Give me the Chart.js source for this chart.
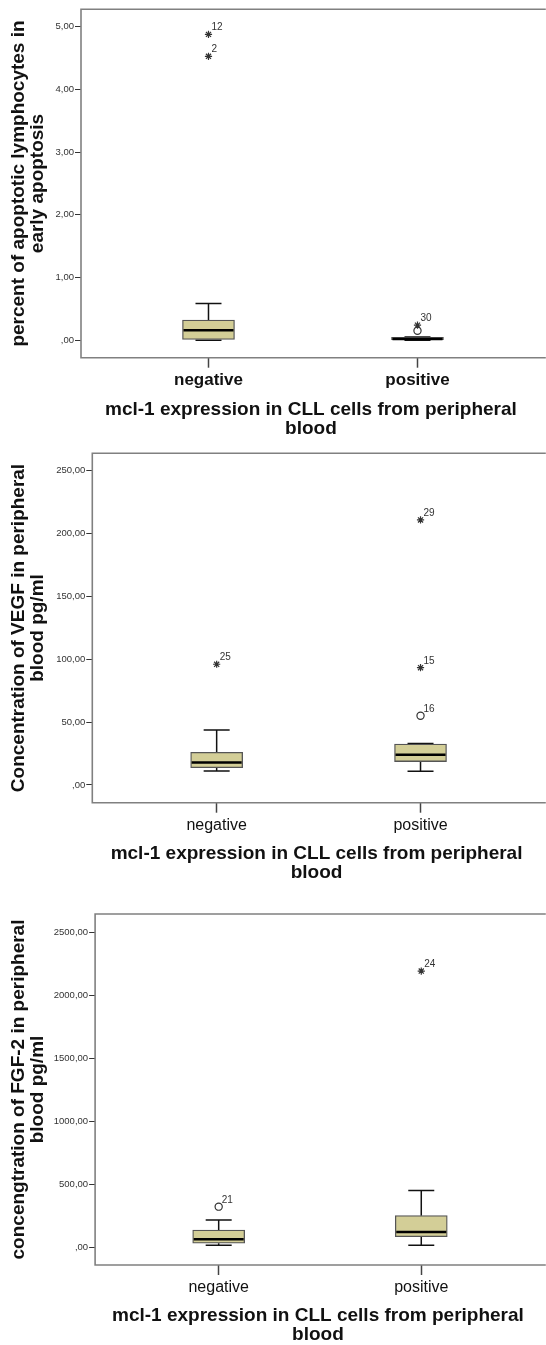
<!DOCTYPE html>
<html>
<head>
<meta charset="utf-8">
<title>mcl-1 expression box plots</title>
<script src="https://cdn.jsdelivr.net/npm/chart.js@4.4.1/dist/chart.umd.min.js"></script>
<style>
  body { margin: 0; background: #fff; }
  #wrap { position: relative; width: 546px; height: 1345px; overflow: hidden; }
  #wrap canvas { position: absolute; left: 0; }
</style>
</head>
<body>
<div id="wrap">
  <canvas id="chartEarly" width="546" height="440" style="top:0"></canvas>
  <canvas id="chartVegf" width="546" height="450" style="top:440px"></canvas>
  <canvas id="chartFgf" width="546" height="455" style="top:890px"></canvas>
</div>
<script>
// kategori sumbu x
const categories = ['negative', 'positive'];
const xTicks = [0, 1];

// panel 1: persen limfosit apoptosis awal
const earlyMin = [0.00, 0.00];
const earlyQ1 = [0.01, 0.00];
const earlyMedian = [0.16, 0.02];
const earlyQ3 = [0.32, 0.045];
const earlyMax = [0.585, 0.05];
const earlyOutGroup = [0, 0, 1, 1];
const earlyOutValue = [4.88, 4.53, 0.24, 0.15];
const earlyOutType = ['star', 'star', 'star', 'circle'];
const earlyOutLabel = ['12', '2', '30', ''];
const earlyTicks = [0, 1, 2, 3, 4, 5];

// panel 2: VEGF pg/ml
const vegfMin = [11.1, 10.9];
const vegfQ1 = [13.8, 18.6];
const vegfMedian = [17.8, 24.1];
const vegfQ3 = [26.0, 32.6];
const vegfMax = [43.7, 33.0];
const vegfOutGroup = [0, 1, 1, 1];
const vegfOutValue = [96.0, 210.8, 93.3, 55.1];
const vegfOutType = ['star', 'star', 'star', 'circle'];
const vegfOutLabel = ['25', '29', '15', '16'];
const vegfTicks = [0, 50, 100, 150, 200, 250];

// panel 3: FGF-2 pg/ml
const fgfMin = [19, 19];
const fgfQ1 = [35, 87];
const fgfMedian = [66, 124];
const fgfQ3 = [140, 254];
const fgfMax = [219, 454];
const fgfOutGroup = [0, 1];
const fgfOutValue = [325, 2191];
const fgfOutType = ['circle', 'star'];
const fgfOutLabel = ['21', '24'];
const fgfTicks = [0, 500, 1000, 1500, 2000, 2500];

const FONT = "'Liberation Sans', Arial, sans-serif";
const BOX_W = 52;
const CAP_W = 26;
const fmtComma = v => v === 0 ? ',00' : v.toFixed(2).replace('.', ',');

function boxChart(id, s, L) {
    // whisker, median, bingkai dan label outlier digambar lewat skala Chart.js
    const extras = {
        id: 'boxExtras',
        beforeDatasetsDraw(chart) {
            const { ctx, chartArea: a, scales: { x, y } } = chart;
            ctx.save();
            ctx.strokeStyle = '#808080';
            ctx.lineWidth = 1.6;
            ctx.beginPath();
            ctx.moveTo(a.right + 5, a.top);
            ctx.lineTo(a.left, a.top);
            ctx.lineTo(a.left, a.bottom);
            ctx.lineTo(a.right + 5, a.bottom);
            ctx.stroke();

            ctx.strokeStyle = '#111';
            ctx.lineWidth = 1.5;
            s.min.forEach((_, i) => {
                const cx = x.getPixelForValue(i);
                const yMax = y.getPixelForValue(s.max[i]);
                const yMin = y.getPixelForValue(s.min[i]);
                ctx.beginPath();
                ctx.moveTo(cx, y.getPixelForValue(s.q3[i])); ctx.lineTo(cx, yMax);
                ctx.moveTo(cx, y.getPixelForValue(s.q1[i])); ctx.lineTo(cx, yMin);
                ctx.moveTo(cx - CAP_W / 2, yMax); ctx.lineTo(cx + CAP_W / 2, yMax);
                ctx.moveTo(cx - CAP_W / 2, yMin); ctx.lineTo(cx + CAP_W / 2, yMin);
                ctx.stroke();
            });
            ctx.restore();
        },
        afterDatasetsDraw(chart) {
            const { ctx, scales: { x, y } } = chart;
            ctx.save();
            ctx.strokeStyle = '#000';
            ctx.lineWidth = 2.5;
            s.median.forEach((m, i) => {
                const cx = x.getPixelForValue(i);
                const my = y.getPixelForValue(m);
                ctx.beginPath();
                ctx.moveTo(cx - BOX_W / 2 + 1, my);
                ctx.lineTo(cx + BOX_W / 2 - 1, my);
                ctx.stroke();
            });
            ctx.fillStyle = '#333';
            ctx.font = '10px ' + FONT;
            ctx.textBaseline = 'alphabetic';
            chart.getDatasetMeta(1).data.forEach((pt, j) => {
                if (s.outLabel[j]) ctx.fillText(s.outLabel[j], pt.x + 3, pt.y - 4);
            });
            ctx.restore();
        }
    };

    return new Chart(document.getElementById(id), {
        type: 'bar',
        data: {
            datasets: [
                {
                    type: 'bar',
                    data: categories.map((c, i) => ({ x: i, y: [s.q1[i], s.q3[i]] })),
                    backgroundColor: '#d3ce97',
                    borderColor: '#555',
                    borderWidth: 1.3,
                    borderSkipped: false,
                    barThickness: BOX_W
                },
                {
                    type: 'scatter',
                    data: s.outGroup.map((g, j) => ({ x: g, y: s.outValue[j] })),
                    pointStyle: s.outType,
                    pointRadius: 3.6,
                    borderWidth: 1.2,
                    borderColor: '#333',
                    backgroundColor: 'rgba(255,255,255,0)'
                }
            ]
        },
        options: {
            responsive: false,
            animation: false,
            devicePixelRatio: 1,
            layout: { padding: { top: L.top, left: 0, right: 0, bottom: 0 } },
            plugins: { legend: { display: false }, tooltip: { enabled: false } },
            scales: {
                x: {
                    type: 'linear',
                    min: -0.61,
                    max: 1.59,
                    offset: false,
                    afterBuildTicks: sc => { sc.ticks = xTicks.map(v => ({ value: v })); },
                    afterFit: sc => { sc.height = L.xHeight; },
                    grid: { drawOnChartArea: false, offset: false, tickLength: 10, tickColor: '#444', tickWidth: 1.5 },
                    border: { display: false },
                    ticks: {
                        padding: L.xPad,
                        color: '#111',
                        maxRotation: 0,
                        autoSkip: false,
                        font: { family: FONT, size: L.catSize, weight: L.catWeight },
                        callback: v => categories[v]
                    },
                    title: {
                        display: true,
                        text: ['mcl-1 expression in CLL cells from peripheral', 'blood'],
                        color: '#111',
                        font: { family: FONT, size: 19, weight: 'bold', lineHeight: 1 },
                        padding: { top: 0, bottom: L.titlePad }
                    }
                },
                y: {
                    min: s.yMin,
                    max: s.yMax,
                    afterBuildTicks: sc => { sc.ticks = s.ticks.map(v => ({ value: v })); },
                    afterFit: sc => { sc.width = L.yWidth; },
                    grid: { drawOnChartArea: false, tickLength: 6, tickColor: '#333', tickWidth: 1 },
                    border: { display: false },
                    ticks: { padding: 1, color: '#333', font: { family: FONT, size: 9.5 }, callback: fmtComma },
                    title: {
                        display: true,
                        text: s.yTitle,
                        color: '#111',
                        font: { family: FONT, size: 19, weight: 'bold', lineHeight: 1 },
                        padding: { top: 9.5, bottom: 0 }
                    }
                }
            }
        },
        plugins: [extras]
    });
}

boxChart('chartEarly', {
    min: earlyMin, q1: earlyQ1, median: earlyMedian, q3: earlyQ3, max: earlyMax,
    outGroup: earlyOutGroup, outValue: earlyOutValue, outType: earlyOutType, outLabel: earlyOutLabel,
    ticks: earlyTicks, yMin: -0.28, yMax: 5.28,
    yTitle: ['percent of apoptotic lymphocytes in', 'early apoptosis']
}, { top: 9.3, yWidth: 81, xHeight: 82.3, xPad: 2, titlePad: 2.2, catSize: 17, catWeight: 'bold' });

boxChart('chartVegf', {
    min: vegfMin, q1: vegfQ1, median: vegfMedian, q3: vegfQ3, max: vegfMax,
    outGroup: vegfOutGroup, outValue: vegfOutValue, outType: vegfOutType, outLabel: vegfOutLabel,
    ticks: vegfTicks, yMin: -14.1, yMax: 263.8,
    yTitle: ['Concentration of VEGF in peripheral', 'blood pg/ml']
}, { top: 13.3, yWidth: 92.3, xHeight: 87.3, xPad: 3.5, titlePad: 8.2, catSize: 16, catWeight: 'normal' });

boxChart('chartFgf', {
    min: fgfMin, q1: fgfQ1, median: fgfMedian, q3: fgfQ3, max: fgfMax,
    outGroup: fgfOutGroup, outValue: fgfOutValue, outType: fgfOutType, outLabel: fgfOutLabel,
    ticks: fgfTicks, yMin: -137, yMax: 2643,
    yTitle: ['concengtration of FGF-2 in peripheral', 'blood pg/ml']
}, { top: 24, yWidth: 95.1, xHeight: 80, xPad: 3, titlePad: 1.2, catSize: 16, catWeight: 'normal' });
</script>
</body>
</html>
